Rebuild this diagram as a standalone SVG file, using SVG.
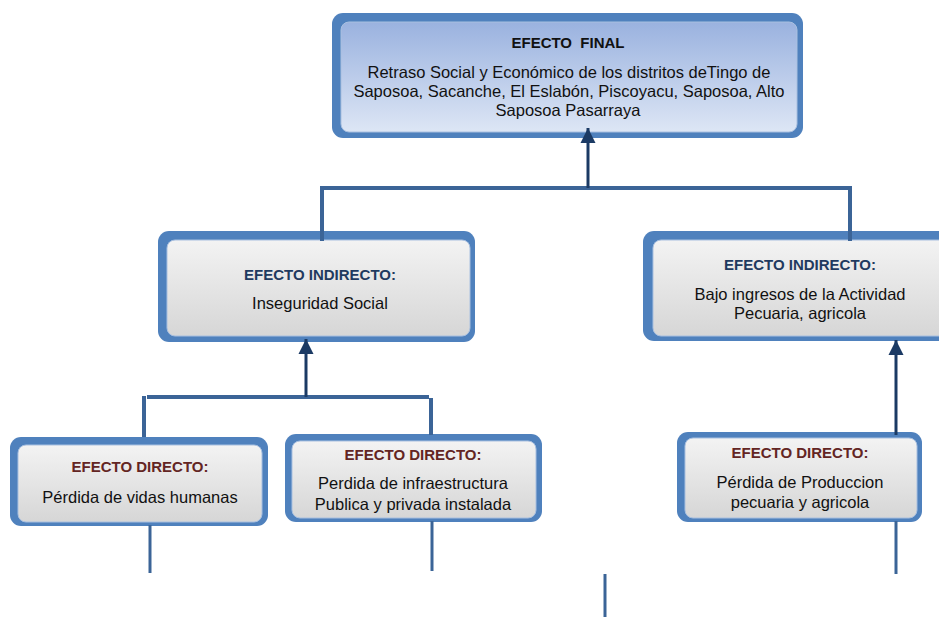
<svg xmlns="http://www.w3.org/2000/svg" width="939" height="617" viewBox="0 0 939 617">
  <defs>
    <linearGradient id="gBlue" x1="0" y1="0" x2="0" y2="1">
      <stop offset="0" stop-color="#9ab2df"/>
      <stop offset="1" stop-color="#dde6f5"/>
    </linearGradient>
    <linearGradient id="gGrey" x1="0" y1="0" x2="0" y2="1">
      <stop offset="0" stop-color="#f3f3f3"/>
      <stop offset="1" stop-color="#d6d6d6"/>
    </linearGradient>
    <marker id="arrow" viewBox="0 0 10 10" refX="10" refY="5" markerWidth="5" markerHeight="5.4" orient="auto" markerUnits="strokeWidth">
      <path d="M0,0 L10,5 L0,10 z" fill="#1b3a64"/>
    </marker>
  </defs>
  <style>
    .frame { fill: #4f81bd; }
    .panel { stroke: #a9c0e0; stroke-width: 1; }
    .blue { fill: url(#gBlue); }
    .grey { fill: url(#gGrey); }
    text { font-family: "Liberation Sans", Arial, sans-serif; font-size: 16.5px; fill: #111; text-anchor: middle; white-space: pre; }
    .h { font-weight: bold; font-size: 15px; }
    .hFinal { fill: #111; }
    .hInd { fill: #1f3a60; }
    .hDir { fill: #632523; }
    .link { stroke: #3b6497; stroke-width: 4; fill: none; }
    .thin { stroke: #3b6497; stroke-width: 3; fill: none; }
    .arr { stroke: #1b3a64; stroke-width: 3; fill: none; marker-end: url(#arrow); }
  </style>

  <rect width="939" height="617" fill="#ffffff"/>

  <!-- final effect -->
  <g id="efecto-final">
    <rect class="frame" x="332" y="13" width="471" height="125" rx="11"/>
    <rect class="panel blue" x="341" y="22" width="456" height="110" rx="8"/>
    <text class="h hFinal" x="568" y="48" xml:space="preserve">EFECTO  FINAL</text>
    <text x="569" y="78">Retraso Social y Económico de los distritos deTingo de</text>
    <text x="569" y="97">Saposoa, Sacanche, El Eslabón, Piscoyacu, Saposoa, Alto</text>
    <text x="568" y="116">Saposoa Pasarraya</text>
  </g>

  <!-- indirect effects -->
  <g id="indirecto-social">
    <rect class="frame" x="158" y="231" width="317" height="111" rx="11"/>
    <rect class="panel grey" x="167" y="240" width="303" height="96" rx="8"/>
    <text class="h hInd" x="320" y="280">EFECTO INDIRECTO:</text>
    <text x="320" y="309">Inseguridad Social</text>
  </g>

  <g id="indirecto-pecuaria">
    <rect class="frame" x="643" y="231" width="310" height="110" rx="11"/>
    <rect class="panel grey" x="653" y="240" width="300" height="96" rx="8"/>
    <text class="h hInd" x="800" y="270">EFECTO INDIRECTO:</text>
    <text x="800" y="300">Bajo ingresos de la Actividad</text>
    <text x="800" y="319">Pecuaria, agricola</text>
  </g>

  <!-- direct effects -->
  <g id="directo-vidas">
    <rect class="frame" x="10" y="437" width="258" height="89" rx="11"/>
    <rect class="panel grey" x="18" y="445" width="244" height="77" rx="8"/>
    <text class="h hDir" x="140" y="472">EFECTO DIRECTO:</text>
    <text x="140" y="503">Pérdida de vidas humanas</text>
  </g>

  <g id="directo-infraestructura">
    <rect class="frame" x="285" y="434" width="257" height="88" rx="11"/>
    <rect class="panel grey" x="292" y="441" width="244" height="77" rx="8"/>
    <text class="h hDir" x="413" y="460">EFECTO DIRECTO:</text>
    <text x="413" y="489">Perdida de infraestructura</text>
    <text x="413" y="510">Publica y privada instalada</text>
  </g>

  <g id="directo-produccion">
    <rect class="frame" x="677" y="432" width="245" height="90" rx="11"/>
    <rect class="panel grey" x="685" y="438" width="232" height="80" rx="8"/>
    <text class="h hDir" x="800" y="458">EFECTO DIRECTO:</text>
    <text x="800" y="488">Pérdida de Produccion</text>
    <text x="800" y="508">pecuaria y agricola</text>
  </g>

  <!-- connectors -->
  <g id="connectors">
    <!-- into final effect -->
    <polyline class="link" points="322,241 322,188 850,188 850,241"/>
    <line class="arr" x1="588" y1="188" x2="588" y2="128"/>

    <!-- into Inseguridad Social -->
    <line class="link" x1="147" y1="397" x2="429" y2="397"/>
    <line class="link" x1="144" y1="396" x2="144" y2="437"/>
    <line class="link" x1="431" y1="398" x2="431" y2="435"/>
    <line class="arr" x1="306" y1="397" x2="306" y2="339"/>

    <!-- into Bajo ingresos -->
    <line class="arr" x1="896" y1="435" x2="896" y2="340"/>

    <!-- stubs below direct effects -->
    <line class="thin" x1="150" y1="525" x2="150" y2="573"/>
    <line class="thin" x1="432" y1="521" x2="432" y2="571"/>
    <line class="thin" x1="896" y1="521" x2="896" y2="574"/>
    <line class="thin" x1="605" y1="574" x2="605" y2="617"/>
  </g>
</svg>
